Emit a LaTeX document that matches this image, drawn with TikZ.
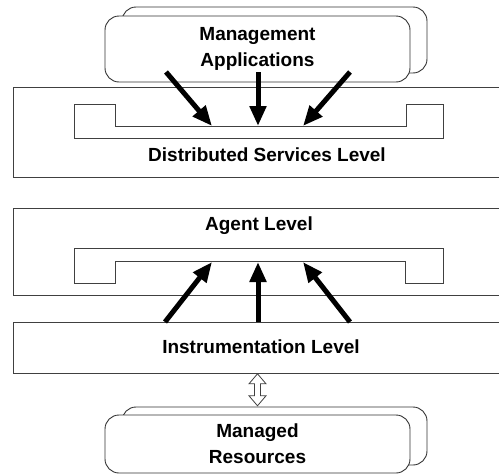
\documentclass[tikz,border=0pt]{standalone}
\usepackage{fontspec}
\setmainfont{Liberation Sans}
\usetikzlibrary{arrows.meta,positioning}
\tikzset{
  levelbox/.style={draw=black!75, line width=0.8pt, fill=white, anchor=north west, inner sep=0pt},
  appbox/.style={draw=black!80, line width=0.9pt, rounded corners=14pt, fill=white, minimum width=305pt, align=center, inner sep=0pt},
  lbl/.style={font=\bfseries\fontsize{19}{26}\selectfont, inner sep=0pt},
  tray/.style={draw=black!75, line width=0.8pt},
  flow/.style={-{Triangle[length=20pt,width=16pt]}, line width=5pt},
  hollow/.style={draw=black!75, line width=0.8pt, fill=white, line join=miter}
}
\begin{document}
\begin{tikzpicture}[x=1pt,y=-1pt]
\useasboundingbox (0,0) rectangle (499,474);
\clip (0,0) rectangle (499,474);
% management applications
\node[appbox, minimum height=66pt] (mgmtb) at (274.5,40) {};
\node[appbox, minimum height=66pt, lbl] (mgmtf) at (257.5,49) {Management\\Applications};
% levels
\node[levelbox, minimum width=520pt, minimum height=90pt] (dsl) at (13,87) {};
\node[lbl] (dsllab) at (267,155) {Distributed Services Level};
\node[levelbox, minimum width=520pt, minimum height=87pt] (agent) at (13,208) {};
\node[lbl] (agentlab) at (259,226) {Agent Level};
\node[levelbox, minimum width=520pt, minimum height=51pt] (instr) at (13,322) {};
\node[lbl] (instrlab) at (261,347) {Instrumentation Level};
% trays
\draw[tray] (74,104) -- (115,104) -- (115,126) -- (406,126) -- (406,104)
  -- (443,104) -- (443,138) -- (74,138) -- cycle;
\draw[tray] (74,248) -- (443,248) -- (443,283) -- (405,283) -- (405,261)
  -- (115,261) -- (115,283) -- (74,283) -- cycle;
% arrow ends
\foreach \n/\sx/\tx/\bx in {l/166/212/165,m/258/258/258,r/350/303/350}{
  \coordinate (app out \n) at (\sx,72);
  \coordinate (dsl in \n) at (\tx,126);
  \coordinate (instr out \n) at (\bx,322);
  \coordinate (agent in \n) at (\tx,262);
}
\foreach \n in {l,m,r}{
  \draw[flow] (app out \n) -- (dsl in \n);
  \draw[flow] (instr out \n) -- (agent in \n);
}
% managed resources
\node[appbox, minimum height=58pt] (resb) at (274.5,436) {};
\node[appbox, minimum height=58pt, lbl] (resf) at (257.5,444) {Managed\\Resources};
% hollow two-way arrow
\coordinate (link top) at (instr.south -| resf.north);
\draw[hollow] (link top) -- ++(8.5,10) -- ++(-5.5,0) -- ++(0,12) -- ++(5.5,0)
  -- ++(-8.5,10) -- ++(-8.5,-10) -- ++(5.5,0) -- ++(0,-12) -- ++(-5.5,0) -- cycle;
\end{tikzpicture}
\end{document}
